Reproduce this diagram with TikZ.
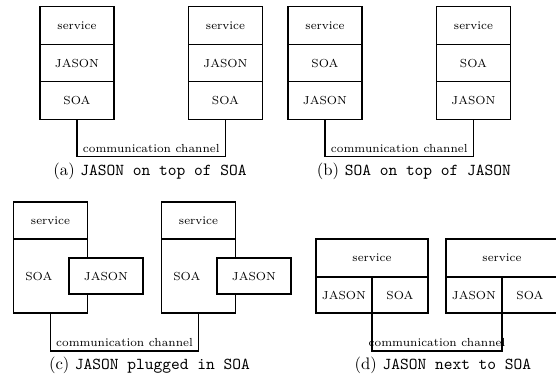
\documentclass[tikz,border=0pt]{standalone}
\usetikzlibrary{positioning}

\begin{document}
\begin{tikzpicture}[x=0.6pt,y=-0.6pt,line width=0.7pt,
    layer/.style={draw,minimum width=44.4pt,minimum height=22.5pt,inner sep=0pt,outer sep=0pt,font=\scriptsize},
    tall/.style={layer,minimum height=44.4pt},
    plug/.style={layer,fill=white,minimum height=21.6pt},
    wide/.style={layer,minimum width=67.2pt,minimum height=22.8pt},
    half/.style={layer,minimum width=33.6pt,minimum height=21.6pt},
    channel/.style={font=\scriptsize,above,inner sep=2pt}]
  \useasboundingbox (0,0) rectangle (556,378);

  % (a) JASON on top of SOA
  \node[layer] (a1srv) at (77,25.5) {service};
  \node[layer] (a1jas) [below=0pt of a1srv] {JASON};
  \node[layer] (a1soa) [below=0pt of a1jas] {SOA};
  \node[layer] (a2srv) at (225.5,25.5) {service};
  \node[layer] (a2jas) [below=0pt of a2srv] {JASON};
  \node[layer] (a2soa) [below=0pt of a2jas] {SOA};
  \draw (a1soa.south) -- ++(0,37) -| (a2soa.south) node[channel,pos=0.25] {communication channel};
  \node (acap) at (150,171) {(a) \texttt{JASON on top of SOA}};

  % (b) SOA on top of JASON
  \node[layer] (b1srv) at (325,25.5) {service};
  \node[layer] (b1soa) [below=0pt of b1srv] {SOA};
  \node[layer] (b1jas) [below=0pt of b1soa] {JASON};
  \node[layer] (b2srv) at (473.5,25.5) {service};
  \node[layer] (b2soa) [below=0pt of b2srv] {SOA};
  \node[layer] (b2jas) [below=0pt of b2soa] {JASON};
  \draw (b1jas.south) -- ++(0,37) -| (b2jas.south) node[channel,pos=0.25] {communication channel};
  \node (bcap) at (414,171) {(b) \texttt{SOA on top of JASON}};

  % (c) JASON plugged in SOA
  \node[layer,minimum height=22.2pt] (c1srv) at (50.5,220.5) {service};
  \node[tall] (c1soa) [below=0pt of c1srv] {\hspace*{-14pt}SOA};
  \node[plug] (c1jas) at (106,276) {JASON};
  \node[layer,minimum height=22.2pt] (c2srv) at (198.5,220.5) {service};
  \node[tall] (c2soa) [below=0pt of c2srv] {\hspace*{-14pt}SOA};
  \node[plug] (c2jas) at (254,276) {JASON};
  \draw (c1soa.south) -- ++(0,38) -| (c2soa.south) node[channel,pos=0.25] {communication channel};
  \node (ccap) at (149.5,365) {(c) \texttt{JASON plugged in SOA}};

  % (d) JASON next to SOA
  \node[wide] (d1srv) at (372,258) {service};
  \node[half,anchor=north west] (d1jas) at (d1srv.south west) {JASON};
  \node[half] (d1soa) [right=0pt of d1jas] {SOA};
  \node[wide] (d2srv) at (502,258) {service};
  \node[half,anchor=north west] (d2jas) at (d2srv.south west) {JASON};
  \node[half] (d2soa) [right=0pt of d2jas] {SOA};
  \draw (d1jas.south east) -- ++(0,38) -| (d2jas.south east) node[channel,pos=0.25] {communication channel};
  \node (dcap) at (443,365) {(d) \texttt{JASON next to SOA}};
\end{tikzpicture}
\end{document}
